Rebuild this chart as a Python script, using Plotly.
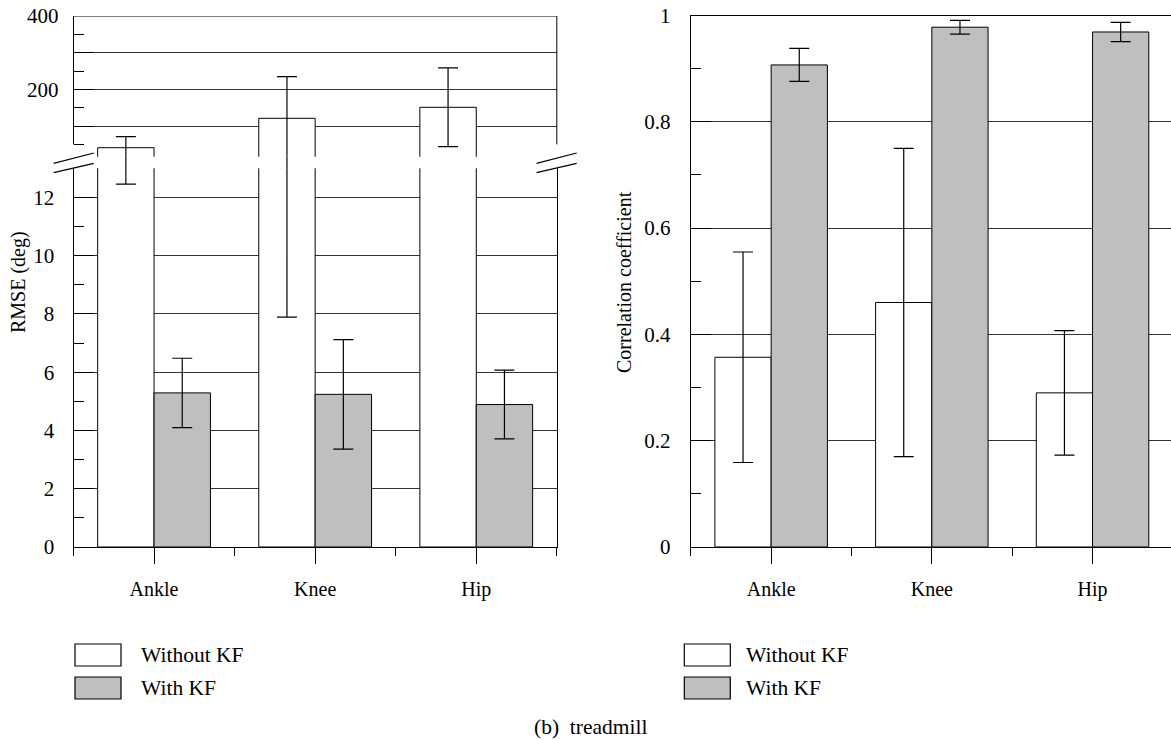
import plotly.graph_objects as go

# ---------------- data ----------------
categories = ["Ankle", "Knee", "Hip"]
series_names = ["Without KF", "With KF"]

# RMSE (deg) – left panel (broken axis)
rmse_without = [40.9, 121.1, 151.1]
rmse_without_err_high = [70.9, 234.5, 258.3]
rmse_without_err_low = [12.46, 7.89, 43.6]
rmse_with = [5.29, 5.24, 4.89]
rmse_with_sd = [1.19, 1.88, 1.18]

# Correlation coefficient – right panel
corr_without = [0.357, 0.460, 0.290]
corr_without_sd = [0.198, 0.290, 0.117]
corr_with = [0.907, 0.978, 0.969]
corr_with_sd = [0.031, 0.013, 0.018]

rmse_lower_ticks = [0, 2, 4, 6, 8, 10, 12]
rmse_lower_minor = [1, 3, 5, 7, 9, 11]
rmse_upper_ticks = [100, 200, 300, 400]
rmse_upper_ticktext = ["", "200", "", "400"]
rmse_upper_minor = [50, 150, 250, 350]
corr_ticks = [0, 0.2, 0.4, 0.6, 0.8, 1]
corr_ticktext = ["0", "0.2", "0.4", "0.6", "0.8", "1"]
corr_minor = [0.1, 0.3, 0.5, 0.7, 0.9]

caption = "(b)\u2002treadmill"

# ---------------- layout constants ----------------
W, H = 1171, 740
FONT = "Liberation Serif"
GRAY = "#bfbfbf"


def fx(p):
    return p / W


def fy(p):
    return 1 - p / H


xpos = list(range(len(categories)))
cat_minor = [i - 0.5 for i in range(len(categories) + 1)]

err_hi = [h - m for h, m in zip(rmse_without_err_high, rmse_without)]
err_lo = [m - l for m, l in zip(rmse_without, rmse_without_err_low)]

fig = go.Figure()


def err(arr, arrminus=None):
    d = dict(type="data", color="black", thickness=1.2, width=10, visible=True)
    if arrminus is None:
        d.update(array=arr, symmetric=True)
    else:
        d.update(array=arr, arrayminus=arrminus, symmetric=False)
    return d


# left panel: the same bars on lower, gap and upper segments of the broken axis
for yax in ["y", "y2", "y3"]:
    hidden = yax == "y2"
    fig.add_trace(go.Bar(
        x=xpos, y=rmse_without, name=series_names[0],
        xaxis="x", yaxis=yax, showlegend=False, hoverinfo="skip",
        marker=dict(color="rgba(0,0,0,0)" if hidden else "white",
                    line=dict(color="black", width=0 if hidden else 1)),
        error_y=err(err_hi, err_lo),
    ))
    fig.add_trace(go.Bar(
        x=xpos, y=rmse_with, name=series_names[1],
        xaxis="x", yaxis=yax, showlegend=False, hoverinfo="skip",
        marker=dict(color="rgba(0,0,0,0)" if hidden else GRAY,
                    line=dict(color="black", width=0 if hidden else 1)),
        error_y=err(rmse_with_sd),
    ))

# right panel
fig.add_trace(go.Bar(
    x=xpos, y=corr_without, name=series_names[0], xaxis="x2", yaxis="y4",
    showlegend=False, hoverinfo="skip",
    marker=dict(color="white", line=dict(color="black", width=1)),
    error_y=err(corr_without_sd),
))
fig.add_trace(go.Bar(
    x=xpos, y=corr_with, name=series_names[1], xaxis="x2", yaxis="y4",
    showlegend=False, hoverinfo="skip",
    marker=dict(color=GRAY, line=dict(color="black", width=1)),
    error_y=err(corr_with_sd),
))

left_x = [fx(73.5), fx(556.8)]
right_x = [fx(690.8), 1.0]
lower_y = [fy(547), fy(168.3)]
gap_y = [fy(168.3), fy(156.7)]
upper_y = [fy(156.7), fy(16)]
right_y = [fy(547), fy(15.5)]

tickfont = dict(family=FONT, size=21, color="black")
catfont = dict(family=FONT, size=20, color="black")

common_x = dict(
    tickvals=xpos, ticktext=categories, ticks="outside", ticklen=16,
    tickwidth=1, tickcolor="black", showline=True, linecolor="black",
    linewidth=1, showgrid=False, zeroline=False, tickfont=catfont,
    ticklabelstandoff=8,
    minor=dict(tickvals=cat_minor, ticks="outside", ticklen=8,
               tickcolor="black", tickwidth=1, showgrid=False),
)

fig.update_layout(
    width=W, height=H,
    margin=dict(l=0, r=0, t=0, b=0),
    paper_bgcolor="white", plot_bgcolor="white",
    template="none",
    font=dict(family=FONT, size=20, color="black"),
    barmode="group", bargap=0.3, bargroupgap=0,
    showlegend=False,
    xaxis=dict(domain=left_x, range=[-0.5, 2.5], anchor="y", **common_x),
    xaxis2=dict(domain=right_x, range=[-0.5, (W - 690.8) / 160.7 - 0.5],
                anchor="y4", mirror=True, **common_x),
    yaxis=dict(
        domain=lower_y, range=[0, 13], anchor="x",
        tickvals=rmse_lower_ticks, ticks="inside", ticklen=20, tickwidth=1,
        tickcolor="black", showline=True, mirror=True, linecolor="black",
        linewidth=1, showgrid=True, gridcolor="#333", gridwidth=1,
        zeroline=False, tickfont=tickfont, ticklabelstandoff=14,
        minor=dict(tickvals=rmse_lower_minor, ticks="inside", ticklen=10,
                   tickcolor="black", tickwidth=1, showgrid=False),
    ),
    yaxis2=dict(domain=gap_y, range=[13, 16.4], anchor="x", visible=False),
    yaxis3=dict(
        domain=upper_y, range=[16.4, 400], anchor="x",
        tickvals=rmse_upper_ticks, ticktext=rmse_upper_ticktext,
        ticks="inside", ticklen=20, tickwidth=1, tickcolor="black",
        showline=False, showgrid=True, gridcolor="#333", gridwidth=1,
        zeroline=False, tickfont=tickfont, ticklabelstandoff=14,
        minor=dict(tickvals=rmse_upper_minor, ticks="inside", ticklen=10,
                   tickcolor="black", tickwidth=1, showgrid=False),
    ),
    yaxis4=dict(
        domain=right_y, range=[0, 1], anchor="x2",
        tickvals=corr_ticks, ticktext=corr_ticktext, ticks="inside",
        ticklen=20, tickwidth=1, tickcolor="black", showline=True,
        linecolor="black", linewidth=1, showgrid=True, gridcolor="#333",
        gridwidth=1, zeroline=False, tickfont=tickfont, ticklabelstandoff=15,
        minor=dict(tickvals=corr_minor, ticks="inside", ticklen=10,
                   tickcolor="black", tickwidth=1, showgrid=False),
    ),
)

line = dict(color="black", width=1)
shapes = [
    # upper segment spines and top frame
    dict(type="line", xref="x domain", yref="y3", x0=0, x1=0,
         y0=rmse_upper_minor[0], y1=rmse_upper_ticks[-1], line=line),
    dict(type="line", xref="x domain", yref="y3", x0=1, x1=1,
         y0=rmse_upper_minor[0], y1=rmse_upper_ticks[-1], line=line),
    dict(type="line", xref="x domain", yref="y3", x0=0, x1=1,
         y0=rmse_upper_ticks[-1], y1=rmse_upper_ticks[-1], line=line),
]
# axis-break marks
for (xa, xb) in [(53.6, 93.8), (536.5, 576.7)]:
    for (ya, yb) in [(163.3, 153.0), (172.7, 163.3)]:
        shapes.append(dict(type="line", xref="paper", yref="paper",
                           x0=fx(xa), x1=fx(xb), y0=fy(ya), y1=fy(yb),
                           line=dict(color="black", width=1.2)))

annotations = [
    dict(text="RMSE (deg)", x=fx(18), y=fy(282), xref="paper", yref="paper",
         textangle=-90, showarrow=False, xanchor="center", yanchor="middle",
         font=dict(family=FONT, size=20, color="black")),
    dict(text="Correlation coefficient", x=fx(624), y=fy(282), xref="paper",
         yref="paper", textangle=-90, showarrow=False, xanchor="center",
         yanchor="middle", font=dict(family=FONT, size=20, color="black")),
    dict(text=caption, x=fx(590), y=fy(727), xref="paper", yref="paper",
         showarrow=False, xanchor="center", yanchor="middle",
         font=dict(family=FONT, size=21.5, color="black")),
]

# legends (one per panel)
for bx, tx in [(75, 139), (684.3, 744)]:
    for k, (colr, name) in enumerate(zip(["white", GRAY], series_names)):
        y0 = 644 + k * 33
        shapes.append(dict(type="rect", xref="paper", yref="paper",
                           x0=fx(bx), x1=fx(bx + 46), y0=fy(y0), y1=fy(y0 + 22),
                           fillcolor=colr, line=dict(color="black", width=1.2)))
        annotations.append(dict(text=name, x=fx(tx), y=fy(y0 + 11),
                                xref="paper", yref="paper", showarrow=False,
                                xanchor="left", yanchor="middle",
                                font=dict(family=FONT, size=21.5, color="black")))

fig.update_layout(shapes=shapes, annotations=annotations)

fig.write_html("out.html",
               config={"displayModeBar": False},
               post_script="document.body.style.margin='0px';"
                           "document.body.style.overflow='hidden';")
